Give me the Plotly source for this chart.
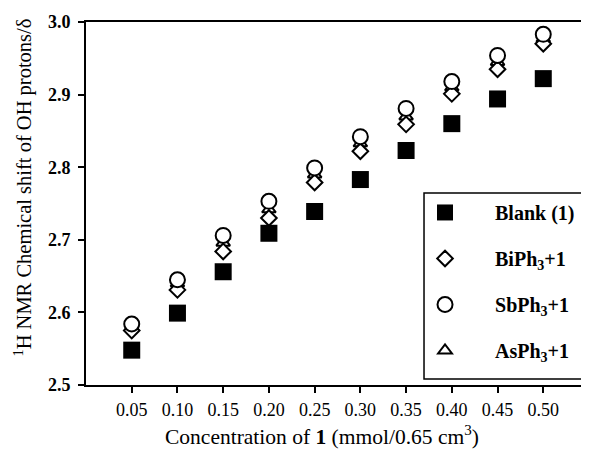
import plotly.graph_objects as go

conc = [0.05, 0.10, 0.15, 0.20, 0.25, 0.30, 0.35, 0.40, 0.45, 0.50]
blank = [2.548, 2.599, 2.656, 2.709, 2.739, 2.783, 2.823, 2.860, 2.894, 2.922]
biph3 = [2.575, 2.631, 2.684, 2.730, 2.779, 2.822, 2.859, 2.901, 2.935, 2.970]
sbph3 = [2.584, 2.645, 2.706, 2.753, 2.799, 2.842, 2.881, 2.918, 2.954, 2.983]
asph3 = [2.580, 2.640, 2.696, 2.742, 2.790, 2.833, 2.870, 2.910, 2.945, 2.977]

x_ticks = [0.05, 0.10, 0.15, 0.20, 0.25, 0.30, 0.35, 0.40, 0.45, 0.50]
y_ticks = [2.5, 2.6, 2.7, 2.8, 2.9, 3.0]

FONT = "Liberation Serif"
NB = "\u00a0" * 6

fig = go.Figure()
fig.add_trace(go.Scatter(x=conc, y=asph3, mode="markers", name=NB + "AsPh<sub>3</sub>+1",
                         legendgroup="d", legendrank=4,
                         marker=dict(symbol="triangle-up", size=12, color="white",
                                     line=dict(width=2, color="black"))))
fig.add_trace(go.Scatter(x=conc, y=blank, mode="markers", name=NB + "Blank (1)",
                         legendgroup="a", legendrank=1,
                         marker=dict(symbol="square", size=17, color="black")))
fig.add_trace(go.Scatter(x=conc, y=biph3, mode="markers", name=NB + "BiPh<sub>3</sub>+1",
                         legendgroup="b", legendrank=2,
                         marker=dict(symbol="diamond", size=12, color="white",
                                     line=dict(width=2, color="black"))))
fig.add_trace(go.Scatter(x=conc, y=sbph3, mode="markers", name=NB + "SbPh<sub>3</sub>+1",
                         legendgroup="c", legendrank=3,
                         marker=dict(symbol="circle", size=15, color="white",
                                     line=dict(width=2, color="black"))))

fig.update_layout(
    width=589, height=453,
    margin=dict(l=78, r=8, t=14, b=76, autoexpand=False),
    paper_bgcolor="white", plot_bgcolor="white",
    font=dict(family=FONT, color="black", size=18),
    legend=dict(x=0.674, y=0.529, xanchor="left", yanchor="top",
                borderwidth=0, bgcolor="rgba(0,0,0,0)",
                font=dict(family=FONT, size=20, color="black", weight="bold"),
                tracegroupgap=17, itemwidth=30),
    shapes=[dict(type="rect", xref="paper", yref="paper",
                 x0=0.672, x1=0.990, y0=0.0165, y1=0.529,
                 line=dict(color="black", width=1.5), layer="above")],
    xaxis=dict(range=[0, 0.55], tickvals=x_ticks, tickformat=".2f",
               ticks="outside", ticklen=6, tickwidth=2, tickcolor="black",
               showline=True, linecolor="black", linewidth=2, mirror=True,
               showgrid=False, zeroline=False, automargin=False,
               ticklabelstandoff=1,
               tickfont=dict(family=FONT, size=18)),
    yaxis=dict(range=[2.5, 3.0], tickvals=y_ticks, tickformat=".1f",
               ticks="outside", ticklen=6, tickwidth=2, tickcolor="black",
               showline=True, linecolor="black", linewidth=2, mirror=True,
               showgrid=False, zeroline=False, automargin=False,
               ticklabelstandoff=4,
               tickfont=dict(family=FONT, size=18, weight="bold")),
    annotations=[
        dict(text="Concentration of <b>1</b> (mmol/0.65 cm<sup>3</sup>)",
             xref="paper", yref="paper", x=0.469, y=-0.14,
             xanchor="center", yanchor="middle", showarrow=False,
             font=dict(family=FONT, size=21.5, color="black")),
        dict(text="<sup>1</sup>H NMR Chemical shift of OH protons/δ",
             xref="paper", yref="paper", x=-0.124, y=0.543, textangle=-90,
             xanchor="center", yanchor="middle", showarrow=False,
             font=dict(family=FONT, size=20.5, color="black")),
    ],
)

fig.write_html("out.html")
